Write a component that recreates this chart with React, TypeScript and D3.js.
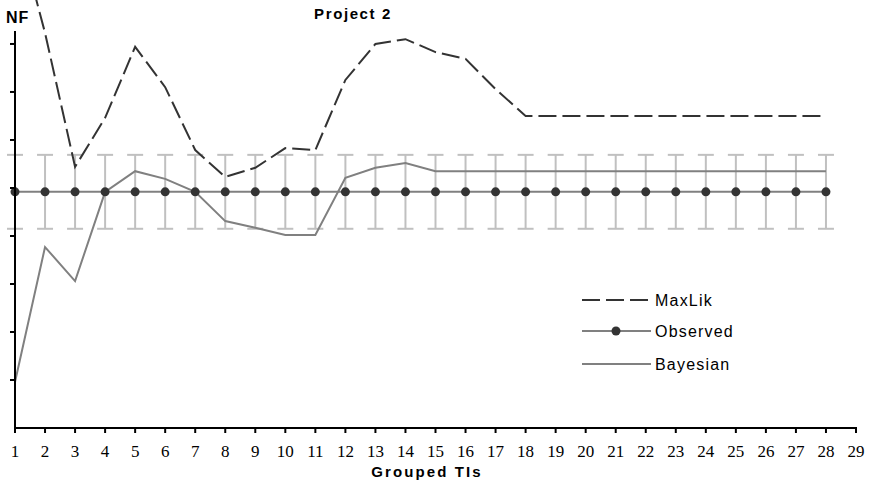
import React from 'react';
import * as d3 from 'd3';

// Grouped TI index (x) and series values (y, NF units)
const groups = [1, 2, 3, 4, 5, 6, 7, 8, 9, 10, 11, 12, 13, 14, 15, 16, 17, 18, 19, 20, 21, 22, 23, 24, 25, 26, 27, 28];
const maxLik = [10.6, 8.23, 5.44, 6.46, 7.94, 7.1, 5.79, 5.23, 5.42, 5.83, 5.79, 7.25, 8.0, 8.1, 7.83, 7.69, 7.06, 6.5, 6.5, 6.5, 6.5, 6.5, 6.5, 6.5, 6.5, 6.5, 6.5, 6.5];
const bayesian = [0.96, 3.77, 3.06, 4.92, 5.35, 5.19, 4.92, 4.31, 4.17, 4.02, 4.02, 5.21, 5.42, 5.52, 5.35, 5.35, 5.35, 5.35, 5.35, 5.35, 5.35, 5.35, 5.35, 5.35, 5.35, 5.35, 5.35, 5.35];
const observed = [4.92, 4.92, 4.92, 4.92, 4.92, 4.92, 4.92, 4.92, 4.92, 4.92, 4.92, 4.92, 4.92, 4.92, 4.92, 4.92, 4.92, 4.92, 4.92, 4.92, 4.92, 4.92, 4.92, 4.92, 4.92, 4.92, 4.92, 4.92];
const errUpper = 5.69;
const errLower = 4.15;
const xTicks = d3.range(1, 30);
const yTicks = [1, 2, 3, 4, 5, 6, 7, 8];
const legendItems = ['MaxLik', 'Observed', 'Bayesian'];

const W = 870;
const H = 482;

export default function App() {
  const x = d3.scaleLinear().domain([1, 29]).range([15, 856]);
  const y = d3.scaleLinear().domain([0, 8.27]).range([428, 31]);

  const line = d3.line<number>()
    .x((d, i) => x(groups[i]))
    .y(d => y(d));

  const sans = 'Arial, "Liberation Sans", sans-serif';
  const dash = '18,6';

  return (
    <div style={{ position: 'absolute', left: 0, top: 0 }}>
      <svg width={W} height={H} style={{ display: 'block', background: '#fff' }}>
        {/* error bars */}
        {groups.map(g => (
          <g key={'e' + g} stroke="#c0c0c0" strokeWidth={2}>
            <line x1={x(g)} x2={x(g)} y1={y(errUpper)} y2={y(errLower)} />
            <line x1={x(g) - 8} x2={x(g) + 8} y1={y(errUpper)} y2={y(errUpper)} />
            <line x1={x(g) - 8} x2={x(g) + 8} y1={y(errLower)} y2={y(errLower)} />
          </g>
        ))}

        {/* Observed */}
        <path d={line(observed) || ''} fill="none" stroke="#808080" strokeWidth={2} />
        {/* Bayesian */}
        <path d={line(bayesian) || ''} fill="none" stroke="#808080" strokeWidth={2} />
        {/* MaxLik */}
        <path d={line(maxLik) || ''} fill="none" stroke="#333" strokeWidth={2} strokeDasharray={dash} />
        {groups.map((g, i) => (
          <circle key={'o' + g} cx={x(g)} cy={y(observed[i])} r={4.5} fill="#333" />
        ))}

        {/* axes */}
        <line x1={x(1)} x2={x(1)} y1={31} y2={y(0)} stroke="#000" strokeWidth={2} />
        <line x1={x(1) - 1} x2={x(29) + 1} y1={y(0)} y2={y(0)} stroke="#000" strokeWidth={2} />
        {yTicks.map(t => (
          <line key={'yt' + t} x1={x(1) - 5} x2={x(1)} y1={y(t)} y2={y(t)} stroke="#000" strokeWidth={2} />
        ))}
        {xTicks.map(t => (
          <g key={'xt' + t}>
            <line x1={x(t)} x2={x(t)} y1={y(0)} y2={y(0) + 5} stroke="#000" strokeWidth={2} />
            <text x={x(t)} y={457} textAnchor="middle" fontFamily='"Times New Roman", "Liberation Serif", serif' fontSize={17}>{t}</text>
          </g>
        ))}

        {/* titles */}
        <text x={353} y={19} textAnchor="middle" fontFamily={sans} fontWeight="bold" fontSize={15} letterSpacing={1.6}>Project 2</text>
        <text x={6} y={23} fontFamily={sans} fontWeight="bold" fontSize={16} letterSpacing={1}>NF</text>
        <text x={427} y={477} textAnchor="middle" fontFamily={sans} fontWeight="bold" fontSize={15} letterSpacing={2.1}>Grouped TIs</text>

        {/* legend */}
        {legendItems.map((name, i) => {
          const ly = [300, 331, 364][i];
          return (
            <g key={name}>
              {i === 0 && <line x1={582} x2={651} y1={ly} y2={ly} stroke="#333" strokeWidth={2} strokeDasharray={dash} />}
              {i === 1 && <line x1={582} x2={651} y1={ly} y2={ly} stroke="#808080" strokeWidth={2} />}
              {i === 1 && <circle cx={616} cy={ly} r={4.5} fill="#333" />}
              {i === 2 && <line x1={582} x2={651} y1={ly} y2={ly} stroke="#808080" strokeWidth={2} />}
              <text x={655} y={ly + 6} fontFamily={sans} fontSize={16} letterSpacing={1.2}>{name}</text>
            </g>
          );
        })}
      </svg>
    </div>
  );
}
